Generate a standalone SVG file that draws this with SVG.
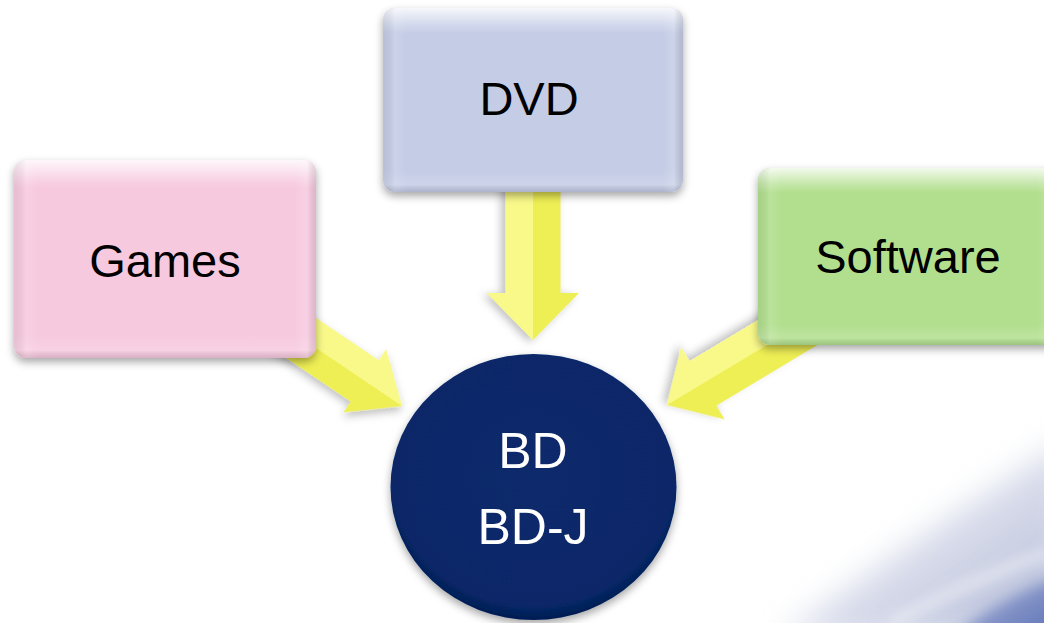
<svg xmlns="http://www.w3.org/2000/svg" width="1044" height="623" viewBox="0 0 1044 623">
<defs>
  <style>
    .lbl{font-family:"Liberation Sans",Arial,sans-serif;font-size:47px;fill:#000;text-anchor:middle}
    .lblw{font-family:"Liberation Sans",Arial,sans-serif;font-size:50px;fill:#fff;text-anchor:middle}
    .arrow{fill:#eeee55}
    .arrowLight{fill:#f9f98a}
    .bevel{fill:url(#bevelV)}
    .bevelH{fill:url(#bevelH)}
  </style>
  <filter id="shadow" x="-20%" y="-20%" width="140%" height="150%">
    <feDropShadow dx="0" dy="4" stdDeviation="4" flood-color="#000" flood-opacity="0.35"/>
  </filter>
  <filter id="ashadow" x="-30%" y="-30%" width="160%" height="160%">
    <feDropShadow dx="2" dy="4" stdDeviation="4" flood-color="#000" flood-opacity="0.25"/>
  </filter>
  <filter id="blur" x="-30%" y="-30%" width="160%" height="160%">
    <feGaussianBlur stdDeviation="16"/>
  </filter>
  <filter id="blur2" x="-30%" y="-30%" width="160%" height="160%">
    <feGaussianBlur stdDeviation="7"/>
  </filter>
  <linearGradient id="bevelV" x1="0" y1="0" x2="0" y2="1">
    <stop offset="0" stop-color="#fff" stop-opacity="0.85"/>
    <stop offset="0.09" stop-color="#fff" stop-opacity="0.25"/>
    <stop offset="0.14" stop-color="#fff" stop-opacity="0"/>
    <stop offset="0.88" stop-color="#fff" stop-opacity="0"/>
    <stop offset="0.96" stop-color="#fff" stop-opacity="0.15"/>
    <stop offset="1" stop-color="#000" stop-opacity="0.12"/>
  </linearGradient>
  <linearGradient id="bevelH" x1="0" y1="0" x2="1" y2="0">
    <stop offset="0" stop-color="#000" stop-opacity="0.06"/>
    <stop offset="0.04" stop-color="#fff" stop-opacity="0.12"/>
    <stop offset="0.08" stop-color="#fff" stop-opacity="0"/>
    <stop offset="0.93" stop-color="#fff" stop-opacity="0"/>
    <stop offset="0.97" stop-color="#fff" stop-opacity="0.15"/>
    <stop offset="1" stop-color="#000" stop-opacity="0.1"/>
  </linearGradient>
  <radialGradient id="circ" cx="0.5" cy="0.45" r="0.55">
    <stop offset="0" stop-color="#08296c"/>
    <stop offset="0.9" stop-color="#072868"/>
    <stop offset="1" stop-color="#051d52"/>
  </radialGradient>
  <linearGradient id="swoosh" x1="0" y1="0" x2="1" y2="1">
    <stop offset="0" stop-color="#eef0f7"/>
    <stop offset="0.6" stop-color="#c8cde2"/>
    <stop offset="1" stop-color="#9aa5cc"/>
  </linearGradient>
  <linearGradient id="swoosh2" x1="0" y1="0" x2="1" y2="1">
    <stop offset="0" stop-color="#a9b4da"/>
    <stop offset="1" stop-color="#4a62ad"/>
  </linearGradient>
</defs>

<rect x="0" y="0" width="1044" height="623" fill="#fff"/>

<g id="background">
  <path d="M780,640 C870,570 960,510 1070,440 L1070,640 Z" fill="url(#swoosh)" filter="url(#blur)" opacity="0.8"/>
  <path d="M950,640 C985,610 1015,595 1060,575 L1060,640 Z" fill="url(#swoosh2)" filter="url(#blur2)" opacity="0.85"/>
  <path d="M890,623 C950,592 1005,568 1050,552" fill="none" stroke="#fff" stroke-width="7" filter="url(#blur2)" opacity="0.7"/>
</g>

<g id="connectors">
  <g id="arrow-games" transform="translate(402,406) rotate(34)" filter="url(#ashadow)">
    <path class="arrow" d="M0,0 L-45,-38 L-45,-25 L-170,-25 L-170,25 L-45,25 L-45,38 Z"/>
    <path class="arrowLight" d="M0,0 L-45,-38 L-45,-25 L-170,-25 L-170,0 Z"/>
  </g>
  <g id="arrow-dvd" transform="translate(533,340) rotate(90)" filter="url(#ashadow)">
    <path class="arrow" d="M0,0 L-47,-46 L-47,-27.5 L-160,-27.5 L-160,27.5 L-47,27.5 L-47,46 Z"/>
    <path class="arrowLight" d="M0,0 L-47,46 L-47,27.5 L-160,27.5 L-160,0 Z"/>
  </g>
  <g id="arrow-software" transform="translate(667,405) rotate(149)" filter="url(#ashadow)">
    <path class="arrow" d="M0,0 L-42,-42 L-42,-26 L-160,-26 L-160,26 L-42,26 L-42,42 Z"/>
    <path class="arrowLight" d="M0,0 L-42,42 L-42,26 L-160,26 L-160,0 Z"/>
  </g>
</g>

<g id="node-games">
  <rect x="14" y="160" width="302" height="198" rx="12" fill="#f7c9df" filter="url(#shadow)"/>
  <rect x="14" y="160" width="302" height="198" rx="12" class="bevel"/>
  <rect x="14" y="160" width="302" height="198" rx="12" class="bevelH"/>
  <text x="165" y="277" class="lbl">Games</text>
</g>

<g id="node-dvd">
  <rect x="383" y="8" width="300" height="184" rx="12" fill="#c4cce6" filter="url(#shadow)"/>
  <rect x="383" y="8" width="300" height="184" rx="12" class="bevel"/>
  <rect x="383" y="8" width="300" height="184" rx="12" class="bevelH"/>
  <text x="529" y="115" class="lbl">DVD</text>
</g>

<g id="node-software">
  <rect x="758" y="168" width="300" height="177" rx="12" fill="#b2df8e" filter="url(#shadow)"/>
  <rect x="758" y="168" width="300" height="177" rx="12" class="bevel"/>
  <rect x="758" y="168" width="300" height="177" rx="12" class="bevelH"/>
  <text x="908" y="273" class="lbl">Software</text>
</g>

<g id="node-bd">
  <ellipse cx="533.5" cy="487" rx="143" ry="133" fill="url(#circ)" filter="url(#shadow)"/>
  <text x="533" y="468" class="lblw">BD</text>
  <text x="533" y="544" class="lblw">BD-J</text>
</g>
</svg>
